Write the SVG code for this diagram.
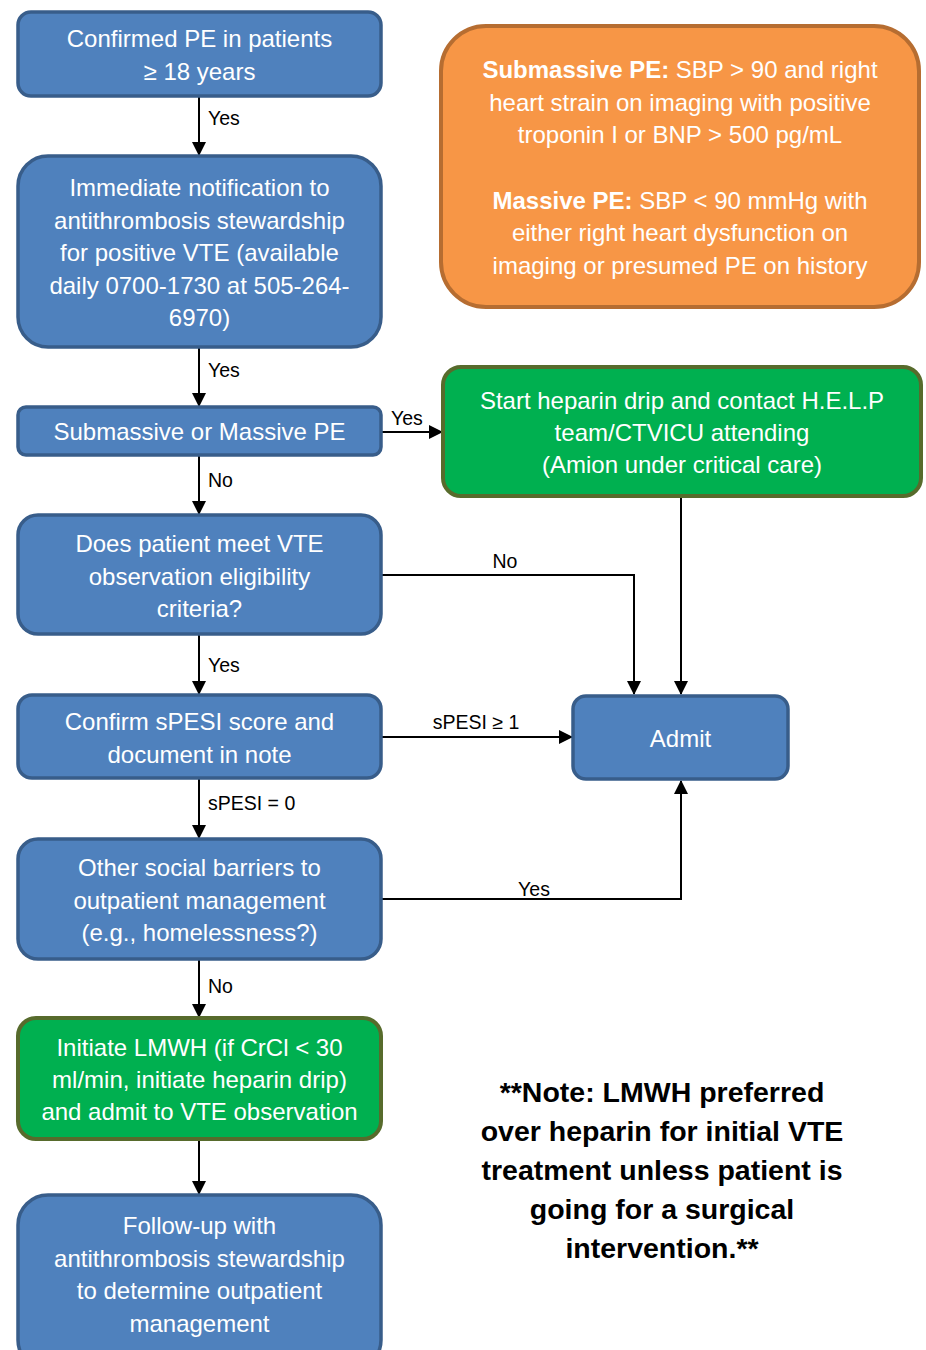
<svg xmlns="http://www.w3.org/2000/svg" width="926" height="1350" viewBox="0 0 926 1350">
<defs>
<marker id="ah" markerUnits="userSpaceOnUse" markerWidth="14" markerHeight="14" viewBox="0 0 14 14" refX="13" refY="7" orient="auto">
<path d="M0,0 L14,7 L0,14 Z" fill="#000"/>
</marker>
<style>
.blue{fill:#4f81bd;stroke:#385d8a;stroke-width:3.5}
.green{fill:#00b050;stroke:#576b2c;stroke-width:4}
.orange{fill:#f79646;stroke:#b66d31;stroke-width:4}
.t{font-family:"Liberation Sans",Arial,sans-serif;font-size:24px;fill:#fff;text-anchor:middle}
.lbl{font-family:"Liberation Sans",Arial,sans-serif;font-size:19.5px;fill:#000}
.note{font-family:"Liberation Sans",Arial,sans-serif;font-size:28.5px;font-weight:bold;fill:#000;text-anchor:middle}
.c{fill:none;stroke:#000;stroke-width:2;marker-end:url(#ah)}
</style>
</defs>
<rect width="926" height="1350" fill="#fff"/>
<g id="connectors">
<path class="c" d="M199,96 V155"/>
<path class="c" d="M199,347 V406"/>
<path class="c" d="M381,432 H442"/>
<path class="c" d="M199,455 V514"/>
<path class="c" d="M381,575 H634 V694"/>
<path class="c" d="M681,496 V694"/>
<path class="c" d="M199,634 V694"/>
<path class="c" d="M381,737 H572"/>
<path class="c" d="M199,778 V838"/>
<path class="c" d="M381,899 H681 V781"/>
<path class="c" d="M199,959 V1017"/>
<path class="c" d="M199,1139 V1194"/>
<text class="lbl" x="208" y="125">Yes</text>
<text class="lbl" x="208" y="377">Yes</text>
<text class="lbl" x="391" y="425">Yes</text>
<text class="lbl" x="208" y="487">No</text>
<text class="lbl" x="505" y="568" text-anchor="middle">No</text>
<text class="lbl" x="208" y="672">Yes</text>
<text class="lbl" x="476" y="729" text-anchor="middle">sPESI ≥ 1</text>
<text class="lbl" x="208" y="810">sPESI = 0</text>
<text class="lbl" x="534" y="896" text-anchor="middle">Yes</text>
<text class="lbl" x="208" y="993">No</text>
</g>
<g id="n1">
<rect class="blue" x="18" y="12" width="363" height="84" rx="13"/>
<text class="t" x="199.5" y="47">Confirmed PE in patients</text>
<text class="t" x="199.5" y="80">≥ 18 years</text>
</g>
<g id="n2">
<rect class="blue" x="18" y="156" width="363" height="191" rx="30"/>
<text class="t" x="199.5" y="196">Immediate notification to</text>
<text class="t" x="199.5" y="229">antithrombosis stewardship</text>
<text class="t" x="199.5" y="261">for positive VTE (available</text>
<text class="t" x="199.5" y="294">daily 0700-1730 at 505-264-</text>
<text class="t" x="199.5" y="326">6970)</text>
</g>
<g id="n3">
<rect class="blue" x="18" y="407" width="363" height="48" rx="8"/>
<text class="t" x="199.5" y="440">Submassive or Massive PE</text>
</g>
<g id="n4">
<rect class="blue" x="18" y="515" width="363" height="119" rx="20"/>
<text class="t" x="199.5" y="552">Does patient meet VTE</text>
<text class="t" x="199.5" y="585">observation eligibility</text>
<text class="t" x="199.5" y="617">criteria?</text>
</g>
<g id="n5">
<rect class="blue" x="18" y="695" width="363" height="83" rx="14"/>
<text class="t" x="199.5" y="730">Confirm sPESI score and</text>
<text class="t" x="199.5" y="763">document in note</text>
</g>
<g id="n6">
<rect class="blue" x="18" y="839" width="363" height="120" rx="20"/>
<text class="t" x="199.5" y="876">Other social barriers to</text>
<text class="t" x="199.5" y="909">outpatient management</text>
<text class="t" x="199.5" y="941">(e.g., homelessness?)</text>
</g>
<g id="n7">
<rect class="green" x="18" y="1018" width="363" height="121" rx="18"/>
<text class="t" x="199.5" y="1056">Initiate LMWH (if CrCl &lt; 30</text>
<text class="t" x="199.5" y="1088">ml/min, initiate heparin drip)</text>
<text class="t" x="199.5" y="1120">and admit to VTE observation</text>
</g>
<g id="n8">
<rect class="blue" x="18" y="1195" width="363" height="175" rx="30"/>
<text class="t" x="199.5" y="1234">Follow-up with</text>
<text class="t" x="199.5" y="1267">antithrombosis stewardship</text>
<text class="t" x="199.5" y="1299">to determine outpatient</text>
<text class="t" x="199.5" y="1332">management</text>
</g>
<g id="def">
<rect class="orange" x="441" y="26" width="478" height="281" rx="45"/>
<text class="t" x="680" y="78"><tspan font-weight="bold">Submassive PE:</tspan> SBP &gt; 90 and right</text>
<text class="t" x="680" y="111">heart strain on imaging with positive</text>
<text class="t" x="680" y="143">troponin I or BNP &gt; 500 pg/mL</text>
<text class="t" x="680" y="209"><tspan font-weight="bold">Massive PE:</tspan> SBP &lt; 90 mmHg with</text>
<text class="t" x="680" y="241">either right heart dysfunction on</text>
<text class="t" x="680" y="274">imaging or presumed PE on history</text>
</g>
<g id="help">
<rect class="green" x="443" y="367" width="478" height="129" rx="18"/>
<text class="t" x="682" y="409">Start heparin drip and contact H.E.L.P</text>
<text class="t" x="682" y="441">team/CTVICU attending</text>
<text class="t" x="682" y="473">(Amion under critical care)</text>
</g>
<g id="admit">
<rect class="blue" x="573" y="696" width="215" height="83" rx="13"/>
<text class="t" x="680.5" y="747">Admit</text>
</g>
<g id="note">
<text class="note" x="662" y="1102">**Note: LMWH preferred</text>
<text class="note" x="662" y="1141">over heparin for initial VTE</text>
<text class="note" x="662" y="1180">treatment unless patient is</text>
<text class="note" x="662" y="1219">going for a surgical</text>
<text class="note" x="662" y="1258">intervention.**</text>
</g>
</svg>
